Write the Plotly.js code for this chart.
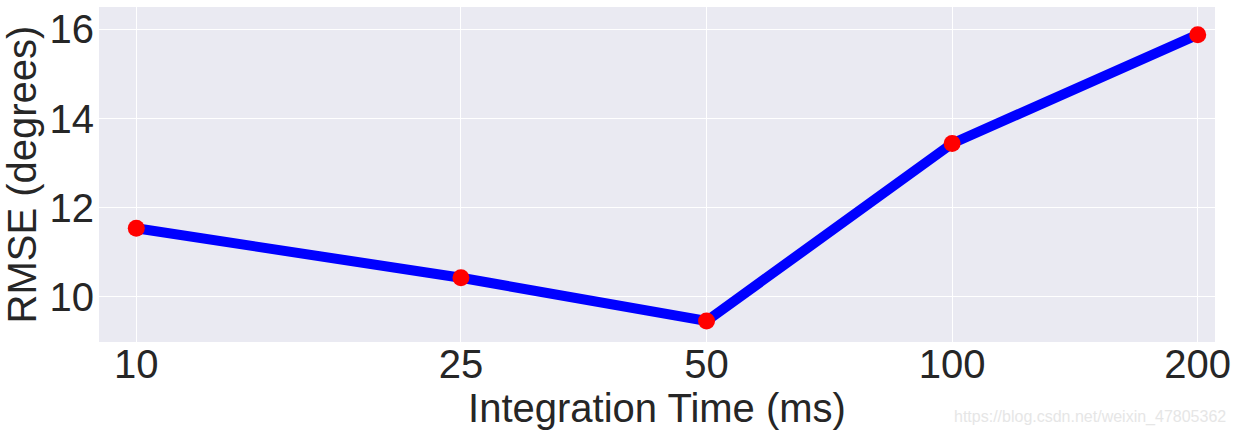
<!DOCTYPE html>
<html>
<head>
<meta charset="utf-8">
<script src="https://cdn.plot.ly/plotly-3.0.1.min.js"></script>
<style>html,body{margin:0;padding:0;background:#fff;}#chart{width:1237px;height:434px;}</style>
</head>
<body>
<div id="chart"></div>
<script>
const integrationTimes = [10, 25, 50, 100, 200];
const rmseValues = [11.54, 10.43, 9.46, 13.44, 15.88];
const xTickVals = [10, 25, 50, 100, 200];
const xTickText = ['10', '25', '50', '100', '200'];
const yTickVals = [10, 12, 14, 16];

const font = 'Liberation Sans, Arial, sans-serif';
const textColor = '#262626';

const traces = [
  {x: integrationTimes, y: rmseValues, type: 'scatter', mode: 'lines',
   line: {color: '#0000ff', width: 10}, hoverinfo: 'skip'},
  {x: integrationTimes, y: rmseValues, type: 'scatter', mode: 'markers',
   marker: {color: '#ff0000', size: 17}, hoverinfo: 'skip'}
];

const layout = {
  width: 1237, height: 434,
  margin: {l: 99, r: 22, t: 7, b: 92},
  paper_bgcolor: '#ffffff',
  plot_bgcolor: '#EAEAF2',
  showlegend: false,
  font: {family: font, color: textColor},
  xaxis: {
    type: 'log',
    range: [0.9543, 2.3222],
    tickvals: xTickVals, ticktext: xTickText,
    tickfont: {size: 40, family: font, color: textColor},
    gridcolor: '#ffffff', gridwidth: 1,
    zeroline: false, showline: false, ticks: '',
    ticklabelstandoff: -5,
    title: {text: 'Integration Time (ms)', font: {size: 40, family: font, color: textColor}, standoff: 0}
  },
  yaxis: {
    range: [8.99, 16.5],
    tickvals: yTickVals,
    tickfont: {size: 40, family: font, color: textColor},
    gridcolor: '#ffffff', gridwidth: 1,
    zeroline: false, showline: false, ticks: '',
    ticklabelstandoff: 4,
    title: {text: 'RMSE (degrees)', font: {size: 40, family: font, color: textColor}, standoff: 6}
  },
  annotations: [{
    text: 'https://blog.csdn.net/weixin_47805362',
    xref: 'paper', yref: 'paper', x: 1.012, y: -0.19,
    xanchor: 'right', yanchor: 'top', showarrow: false,
    font: {size: 16, family: font, color: '#e6e6e6'}
  }]
};

Plotly.newPlot('chart', traces, layout, {displayModeBar: false, staticPlot: true});
</script>
</body>
</html>
